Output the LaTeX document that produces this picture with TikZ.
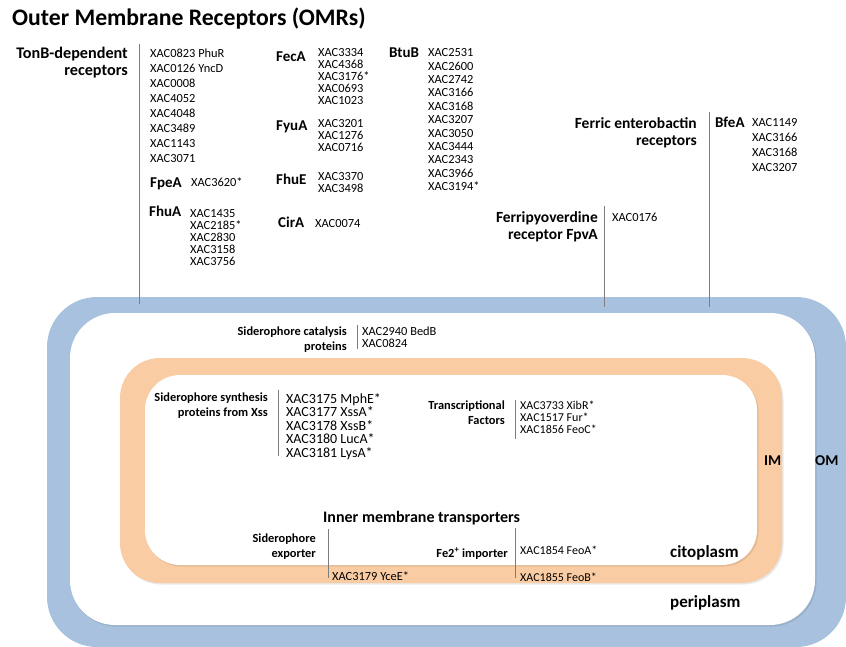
\documentclass[tikz,border=0pt]{standalone}
\usepackage{fontspec}
\setmainfont{Carlito}
\usetikzlibrary{positioning,calc}
\definecolor{omblue}{RGB}{167,193,223}
\definecolor{imorange}{RGB}{250,204,163}
\definecolor{sepgray}{RGB}{125,125,125}
\newcommand{\fsz}[2]{\fontsize{#1}{#2}\selectfont}

\begin{document}
\begin{tikzpicture}[x=1pt,y=-1pt]
\tikzset{head/.style={inner sep=0pt, anchor=north east, align=right, font=\bfseries\fsz{15.5}{17}}}
\tikzset{smallhead/.style={inner sep=0pt, anchor=north east, align=right, font=\bfseries\fsz{12.4}{15}}}
\tikzset{prot/.style={inner sep=0pt, anchor=base west, font=\bfseries\fsz{15}{16}}}
\tikzset{genes/.style={inner sep=0pt, anchor=north west, align=left, font=\fsz{12.4}{12}}}
\tikzset{gene/.style={inner sep=0pt, anchor=base west, font=\fsz{12.4}{12}}}
\tikzset{compart/.style={inner sep=0pt, anchor=base west, font=\bfseries\fsz{17}{18}}}
\tikzset{sep/.style={draw=sepgray, line width=0.6pt}}
\tikzset{shade/.style={fill=black, opacity=0.09}}

\useasboundingbox (0,0) rectangle (846,647);

% membranes
\fill[omblue, rounded corners=50] (47,297) rectangle (846,647);
\fill[shade, rounded corners=45] (71,314.5) rectangle (816.5,626.5);
\fill[white, rounded corners=45] (70,313) rectangle (815,625);
\fill[shade, rounded corners=40] (121,359.5) rectangle (783.5,584.5);
\fill[imorange, rounded corners=40] (120,358) rectangle (782,583);
\fill[shade, rounded corners=35] (146,376.5) rectangle (758.5,566.5);
\fill[white, rounded corners=35] (145,375) rectangle (757,565);

\node[inner sep=0pt, anchor=base west, font=\bfseries\fsz{23.7}{26}] (title) at (12,25.4) {Outer Membrane Receptors (OMRs)};

% outer membrane receptors
\node[head, font=\bfseries\fsz{16.2}{17}] (tonb) at (128,47.2) {TonB-dependent\\receptors};
\coordinate (tonbsep) at (139,44);
\draw[sep] (tonbsep) -- ++(0,260);
\node[genes, font=\fsz{12.4}{15}] (tonbgenes) at (150,48.7) {XAC0823 PhuR\\XAC0126 YncD\\XAC0008\\XAC4052\\XAC4048\\XAC3489\\XAC1143\\XAC3071};
\node[prot] (fpea) at (150,188) {FpeA};
\node[gene] (fpeagenes) at (191,187) {XAC3620*};
\node[prot] (fhua) at (149,217) {FhuA};
\node[genes] (fhuagenes) at (190,209.5) {XAC1435\\XAC2185*\\XAC2830\\XAC3158\\XAC3756};

\node[prot] (feca) at (276,62) {FecA};
\node[genes] (fecagenes) at (318,48.5) {XAC3334\\XAC4368\\XAC3176*\\XAC0693\\XAC1023};
\node[prot] (fyua) at (276,131) {FyuA};
\node[genes] (fyuagenes) at (318,119.5) {XAC3201\\XAC1276\\XAC0716};
\node[prot] (fhue) at (276,185) {FhuE};
\node[genes] (fhuegenes) at (318,172.5) {XAC3370\\XAC3498};
\node[prot] (cira) at (278,228) {CirA};
\node[gene] (ciragenes) at (315,228) {XAC0074};

\node[prot] (btub) at (389,57.5) {BtuB};
\node[genes, font=\fsz{12.4}{13.4}] (btubgenes) at (428,48.5) {XAC2531\\XAC2600\\XAC2742\\XAC3166\\XAC3168\\XAC3207\\XAC3050\\XAC3444\\XAC2343\\XAC3966\\XAC3194*};

\node[head] (ferric) at (697,117) {Ferric enterobactin\\receptors};
\coordinate (ferricsep) at (709,112);
\draw[sep] (ferricsep) -- ++(0,195);
\node[prot] (bfea) at (715,128) {BfeA};
\node[genes, font=\fsz{12.4}{15}] (bfeagenes) at (752,118.5) {XAC1149\\XAC3166\\XAC3168\\XAC3207};

\node[head] (fpva) at (598,211.4) {Ferripyoverdine\\receptor FpvA};
\coordinate (fpvasep) at (604,206);
\draw[sep] (fpvasep) -- ++(0,101);
\node[gene] (fpvagenes) at (612,222) {XAC0176};

% periplasm
\node[smallhead] (catal) at (347,326.5) {Siderophore catalysis\\proteins};
\coordinate (catalsep) at (357,325);
\draw[sep] (catalsep) -- ++(0,24);
\node[genes] (catalgenes) at (362,326.6) {XAC2940 BedB\\XAC0824};

% cytoplasm
\node[smallhead] (synth) at (268,392.5) {Siderophore synthesis\\proteins from Xss};
\coordinate (synthsep) at (278,390);
\draw[sep] (synthsep) -- ++(0,66);
\node[genes, font=\fsz{14}{13.5}] (synthgenes) at (286,393) {XAC3175 MphE*\\XAC3177 XssA*\\XAC3178 XssB*\\XAC3180 LucA*\\XAC3181 LysA*};

\node[smallhead] (transc) at (505,400.5) {Transcriptional\\Factors};
\coordinate (transcsep) at (515.5,400);
\draw[sep] (transcsep) -- ++(0,39);
\node[genes, font=\fsz{12}{12}] (transcgenes) at (520,400.7) {XAC3733 XibR*\\XAC1517 Fur*\\XAC1856 FeoC*};

% inner membrane transporters
\node[compart, font=\bfseries\fsz{16}{18}] (imt) at (323,522) {Inner membrane transporters};
\node[smallhead] (export) at (316,533.5) {Siderophore\\exporter};
\coordinate (exportsep) at (328,529);
\draw[sep] (exportsep) -- ++(0,49);
\node[gene] (exportgenes) at (332,580) {XAC3179 YceE*};
\node[smallhead, anchor=base east] (import) at (508,557) {Fe2\textsuperscript{+} importer};
\coordinate (importsep) at (515,528);
\draw[sep] (importsep) -- ++(0,50);
\node[gene, font=\fsz{12}{12}] (feoa) at (520,554) {XAC1854 FeoA*};
\node[gene, font=\fsz{12}{12}] (feob) at (520,581) {XAC1855 FeoB*};

% compartment labels
\node[compart, font=\bfseries\fsz{15}{18}] (im) at (764,465) {IM};
\node[compart, font=\bfseries\fsz{15}{18}] (om) at (815,465) {OM};
\node[compart] (cito) at (670,557.5) {citoplasm};
\node[compart] (peri) at (670,607.5) {periplasm};
\end{tikzpicture}
\end{document}
